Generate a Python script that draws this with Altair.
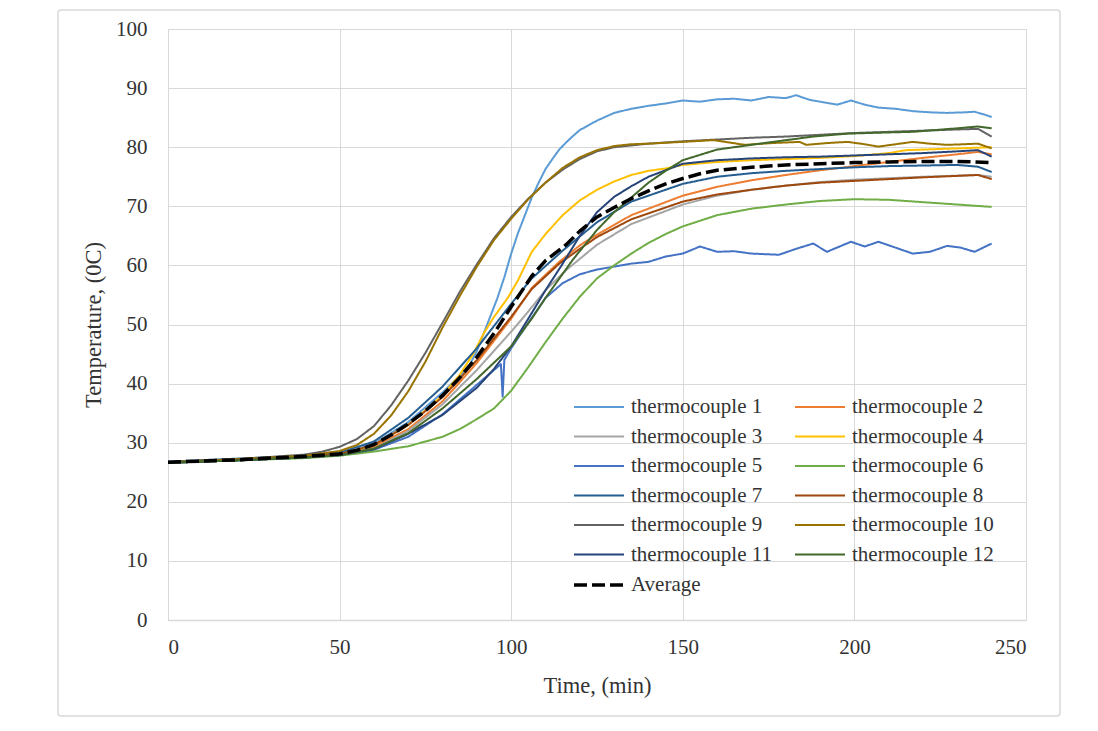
import altair as alt
import pandas as pd

# ---------------- data ----------------
SERIES = [f"thermocouple {i}" for i in range(1, 13)] + ["Average"]
COLORS = ["#5B9BD5", "#ED7D31", "#A5A5A5", "#FFC000", "#4472C4", "#70AD47",
          "#255E91", "#9E480E", "#636363", "#997300", "#264478", "#43682B", "#000000"]
DASHES = [[1, 0]] * 12 + [[13, 5]]
WIDTHS = [2] * 12 + [3.5]

TC1_T = [0, 20, 40, 50, 60, 70, 80, 85, 88, 90, 92, 94, 96, 98, 100, 102, 104, 106, 108, 110, 112, 114, 116, 118, 120,
         125, 130, 135, 140, 145, 150, 155, 160, 165, 170, 175, 180, 183, 187, 190, 195, 199, 203, 207, 212, 217, 222,
         227, 232, 235, 238, 240]
TC1_V = [26.7, 27.2, 27.7, 28.1, 29.8, 33.5, 38.5, 41.3, 43.3, 45.5, 48.5, 51.5, 54.5, 58, 62, 65.5, 68.5, 71.5, 74,
         76.3, 78, 79.6, 80.8, 81.9, 82.9, 84.5, 85.8, 86.5, 87, 87.4, 87.9, 87.7, 88.1, 88.2, 87.9, 88.5, 88.3, 88.8,
         88, 87.7, 87.2, 87.9, 87.2, 86.7, 86.5, 86.1, 85.9, 85.8, 85.9, 86, 85.5, 85.1]

TC2_T = [0, 20, 40, 50, 60, 70, 80, 90, 100, 106, 114, 120, 125, 135, 150, 160, 170, 180, 190, 200, 210, 220, 230, 236, 240]
TC2_V = [26.6, 27.1, 27.6, 28.0, 29.3, 32.3, 37.0, 43.5, 51.0, 56.2, 60.6, 63.4, 65.2, 68.5, 71.8, 73.3, 74.4, 75.3,
         76.1, 76.8, 77.5, 78.2, 78.8, 79.2, 78.8]

TC3_T = [0, 20, 40, 50, 60, 70, 80, 90, 100, 104, 110, 116, 125, 135, 150, 160, 170, 180, 190, 200, 220, 236, 240]
TC3_V = [26.6, 27.1, 27.6, 28.0, 29.0, 32.0, 36.5, 42.3, 48.8, 51.5, 55.8, 59.2, 63.5, 67.0, 70.3, 71.8, 72.8, 73.5,
         74.1, 74.5, 75.0, 75.3, 75.0]

TC4_T = [0, 20, 40, 50, 60, 70, 80, 85, 89, 92, 95, 99, 102, 106, 110, 115, 120, 125, 130, 135, 140, 145, 150, 160,
         170, 180, 190, 200, 210, 215, 220, 230, 240]
TC4_V = [26.6, 27.1, 27.6, 28.0, 29.6, 33.0, 38.0, 41.5, 45.1, 48.5, 51.3, 54.5, 57.5, 62.3, 65.3, 68.5, 71.0, 72.8,
         74.2, 75.3, 76.0, 76.4, 77.0, 77.5, 77.8, 78.0, 78.2, 78.5, 79.0, 79.5, 79.6, 79.8, 80.0]

TC5_T = [0, 20, 40, 50, 60, 70, 80, 90, 95, 97, 97.5, 98, 100, 105, 110, 115, 120, 125, 130, 135, 140, 145, 150, 155,
         160, 165, 170, 178, 183, 188, 192, 199, 203, 207, 212, 217, 222, 227, 231, 235, 240]
TC5_V = [26.6, 27.0, 27.5, 27.9, 28.8, 31.0, 34.8, 39.8, 42.3, 43.3, 37.8, 44.0, 46.0, 50.3, 54.5, 57.0, 58.5, 59.3,
         59.8, 60.3, 60.6, 61.5, 62.0, 63.2, 62.3, 62.4, 62.0, 61.8, 62.8, 63.7, 62.3, 64.0, 63.2, 64.0, 63.0, 62.0,
         62.3, 63.3, 63.0, 62.3, 63.7]

TC6_T = [0, 20, 40, 50, 60, 70, 80, 85, 90, 95, 100, 105, 110, 115, 120, 125, 130, 135, 140, 145, 150, 160, 170, 180,
         190, 200, 210, 220, 230, 240]
TC6_V = [26.6, 27.0, 27.4, 27.8, 28.5, 29.4, 31.0, 32.3, 34.0, 35.8, 38.8, 42.8, 47.0, 51.0, 54.7, 57.8, 60.0, 62.0,
         63.8, 65.3, 66.6, 68.5, 69.6, 70.3, 70.9, 71.2, 71.1, 70.7, 70.3, 69.9]

TC7_T = [0, 20, 40, 50, 60, 70, 80, 90, 100, 106, 115, 125, 135, 150, 160, 170, 180, 190, 200, 210, 220, 230, 236, 240]
TC7_V = [26.8, 27.3, 27.8, 28.3, 30.2, 34.2, 39.5, 46.0, 53.5, 57.8, 62.5, 67.3, 70.8, 73.8, 75.0, 75.6, 76.0, 76.3,
         76.6, 76.8, 76.9, 77.0, 76.7, 75.8]

TC8_T = [0, 20, 40, 50, 60, 70, 80, 90, 100, 106, 114, 120, 125, 135, 150, 160, 170, 180, 190, 200, 210, 220, 236, 240]
TC8_V = [26.7, 27.2, 27.7, 28.1, 29.6, 33.0, 37.7, 44.0, 51.3, 56.0, 60.3, 62.8, 64.8, 67.8, 70.8, 72.0, 72.8, 73.5,
         74.0, 74.3, 74.6, 74.9, 75.3, 74.6]

TC9_T = [0, 20, 40, 45, 50, 55, 60, 65, 70, 75, 80, 85, 90, 95, 100, 105, 110, 115, 120, 125, 130, 140, 150, 160, 170,
         180, 190, 200, 210, 220, 230, 236, 240]
TC9_V = [26.7, 27.2, 28.0, 28.5, 29.3, 30.6, 32.8, 36.3, 40.5, 45.2, 50.3, 55.5, 60.2, 64.6, 68.2, 71.3, 74.0, 76.2,
         78.0, 79.3, 80.0, 80.6, 81.0, 81.3, 81.6, 81.8, 82.1, 82.4, 82.6, 82.8, 83.0, 83.1, 81.8]

TC10_T = [0, 20, 40, 50, 55, 60, 65, 70, 75, 80, 85, 90, 95, 100, 105, 110, 115, 120, 125, 130, 135, 140, 150, 159,
          168, 176, 184, 186, 192, 198, 203, 207, 212, 217, 222, 227, 232, 236, 240]
TC10_V = [26.7, 27.2, 27.8, 28.6, 29.6, 31.5, 34.6, 38.7, 43.7, 49.5, 54.8, 59.8, 64.3, 67.9, 71.2, 74.0, 76.5, 78.3,
          79.5, 80.2, 80.5, 80.6, 80.9, 81.2, 80.4, 80.7, 80.9, 80.4, 80.7, 80.9, 80.5, 80.1, 80.5, 80.9, 80.6, 80.4,
          80.5, 80.6, 79.8]

TC11_T = [0, 20, 40, 50, 60, 70, 80, 90, 95, 100, 105, 110, 115, 120, 125, 130, 135, 140, 150, 160, 170, 180, 190, 200,
          210, 220, 230, 236, 240]
TC11_V = [26.6, 27.0, 27.5, 27.9, 28.9, 31.5, 34.7, 39.3, 42.5, 46.3, 51.0, 55.8, 60.3, 65.0, 69.0, 71.6, 73.4, 75.0,
          77.2, 77.8, 78.1, 78.3, 78.4, 78.6, 78.8, 79.0, 79.3, 79.5, 78.4]

TC12_T = [0, 20, 40, 50, 60, 70, 80, 90, 100, 106, 110, 118, 125, 130, 135, 140, 145, 150, 160, 175, 188, 198, 210, 217,
          230, 236, 240]
TC12_V = [26.6, 27.0, 27.5, 27.9, 29.0, 31.6, 35.8, 40.8, 46.3, 51.0, 54.5, 61.0, 66.0, 69.0, 71.5, 74.0, 76.0, 77.8,
          79.6, 80.8, 81.8, 82.3, 82.5, 82.6, 83.2, 83.5, 83.2]

AVG_T = [0, 10, 20, 30, 40, 50, 55, 60, 65, 70, 75, 80, 85, 90, 95, 100, 106, 110, 116, 120, 125, 130, 135, 140, 145,
         150, 155, 160, 170, 180, 190, 200, 210, 220, 230, 240]
AVG_V = [26.7, 26.9, 27.1, 27.4, 27.7, 28.1, 28.7, 29.7, 31.3, 33.2, 35.4, 38.0, 41.0, 44.5, 48.5, 53.0, 58.2, 60.8,
         63.5, 65.8, 68.2, 69.8, 71.3, 72.6, 73.8, 74.7, 75.5, 76.1, 76.6, 77.0, 77.2, 77.4, 77.5, 77.6, 77.6, 77.4]

X_TICKS = [0, 50, 100, 150, 200, 250]
Y_TICKS = list(range(0, 101, 10))

# ---------------- build long table ----------------
pairs = [(TC1_T, TC1_V), (TC2_T, TC2_V), (TC3_T, TC3_V), (TC4_T, TC4_V), (TC5_T, TC5_V), (TC6_T, TC6_V),
         (TC7_T, TC7_V), (TC8_T, TC8_V), (TC9_T, TC9_V), (TC10_T, TC10_V), (TC11_T, TC11_V), (TC12_T, TC12_V),
         (AVG_T, AVG_V)]
rows = []
for name, (ts, vs) in zip(SERIES, pairs):
    for t, v in zip(ts, vs):
        rows.append({"series": name, "t": t, "temp": v})
df = pd.DataFrame(rows)

FONT = "Liberation Serif"
TXT = "#333333"
GRID = "#d9d9d9"

# long horizontal line symbol (custom path, 5 units wide), small "size" keeps rows compact
legend = alt.Legend(
    title=None, orient="none", legendX=404, legendY=367, columns=2, direction="horizontal",
    symbolType="M-2.5,0H2.5", symbolSize=400, symbolOffset=15, symbolStrokeWidth=2.5,
    labelFont=FONT, labelFontSize=21, labelColor=TXT, labelOffset=20, columnPadding=19, rowPadding=8.5,
    labelLimit=300,
)

color = alt.Color("series:N", scale=alt.Scale(domain=SERIES, range=COLORS), legend=legend, title=None)
dash = alt.StrokeDash("series:N", scale=alt.Scale(domain=SERIES, range=DASHES), legend=legend, title=None)
width = alt.StrokeWidth("series:N", scale=alt.Scale(type="ordinal", domain=SERIES, range=WIDTHS),
                        legend=legend, title=None)

x = alt.X("t:Q", scale=alt.Scale(domain=[0, 250], nice=False),
          axis=alt.Axis(values=X_TICKS, title="Time, (min)", grid=True, gridColor=GRID, ticks=False,
                        domainColor=GRID, domainWidth=1.5, labelFont=FONT, labelFontSize=21, labelColor=TXT,
                        labelPadding=16, titleFont=FONT, titleFontSize=22.5, titleFontWeight="normal",
                        titleColor=TXT, titlePadding=17))
y = alt.Y("temp:Q", scale=alt.Scale(domain=[0, 100], nice=False),
          axis=alt.Axis(values=Y_TICKS, title="Temperature, (0C)", grid=True, gridColor=GRID, ticks=False,
                        domain=False, labelFont=FONT, labelFontSize=21, labelColor=TXT, labelPadding=21,
                        titleFont=FONT, titleFontSize=22.5, titleFontWeight="normal", titleColor=TXT,
                        titlePadding=10))

lines = alt.Chart(df).mark_line(strokeJoin="round").encode(
    x=x, y=y, color=color, strokeDash=dash, strokeWidth=width
)

frame = alt.Chart(alt.Data(values=[{"a": 1}])).mark_rect(
    fill=None, stroke=GRID, strokeWidth=1.5, cornerRadius=3
).encode(x=alt.value(-110), x2=alt.value(892), y=alt.value(-19), y2=alt.value(687))

chart = alt.layer(frame, lines).properties(
    width=858, height=591,
    autosize=alt.AutoSizeParams(type="none"),
    padding={"left": 160, "top": 21, "right": 60, "bottom": 100},
).configure_view(stroke=None).configure(background="white")

chart.save("out.html", embed_options={"renderer": "svg", "actions": False})
